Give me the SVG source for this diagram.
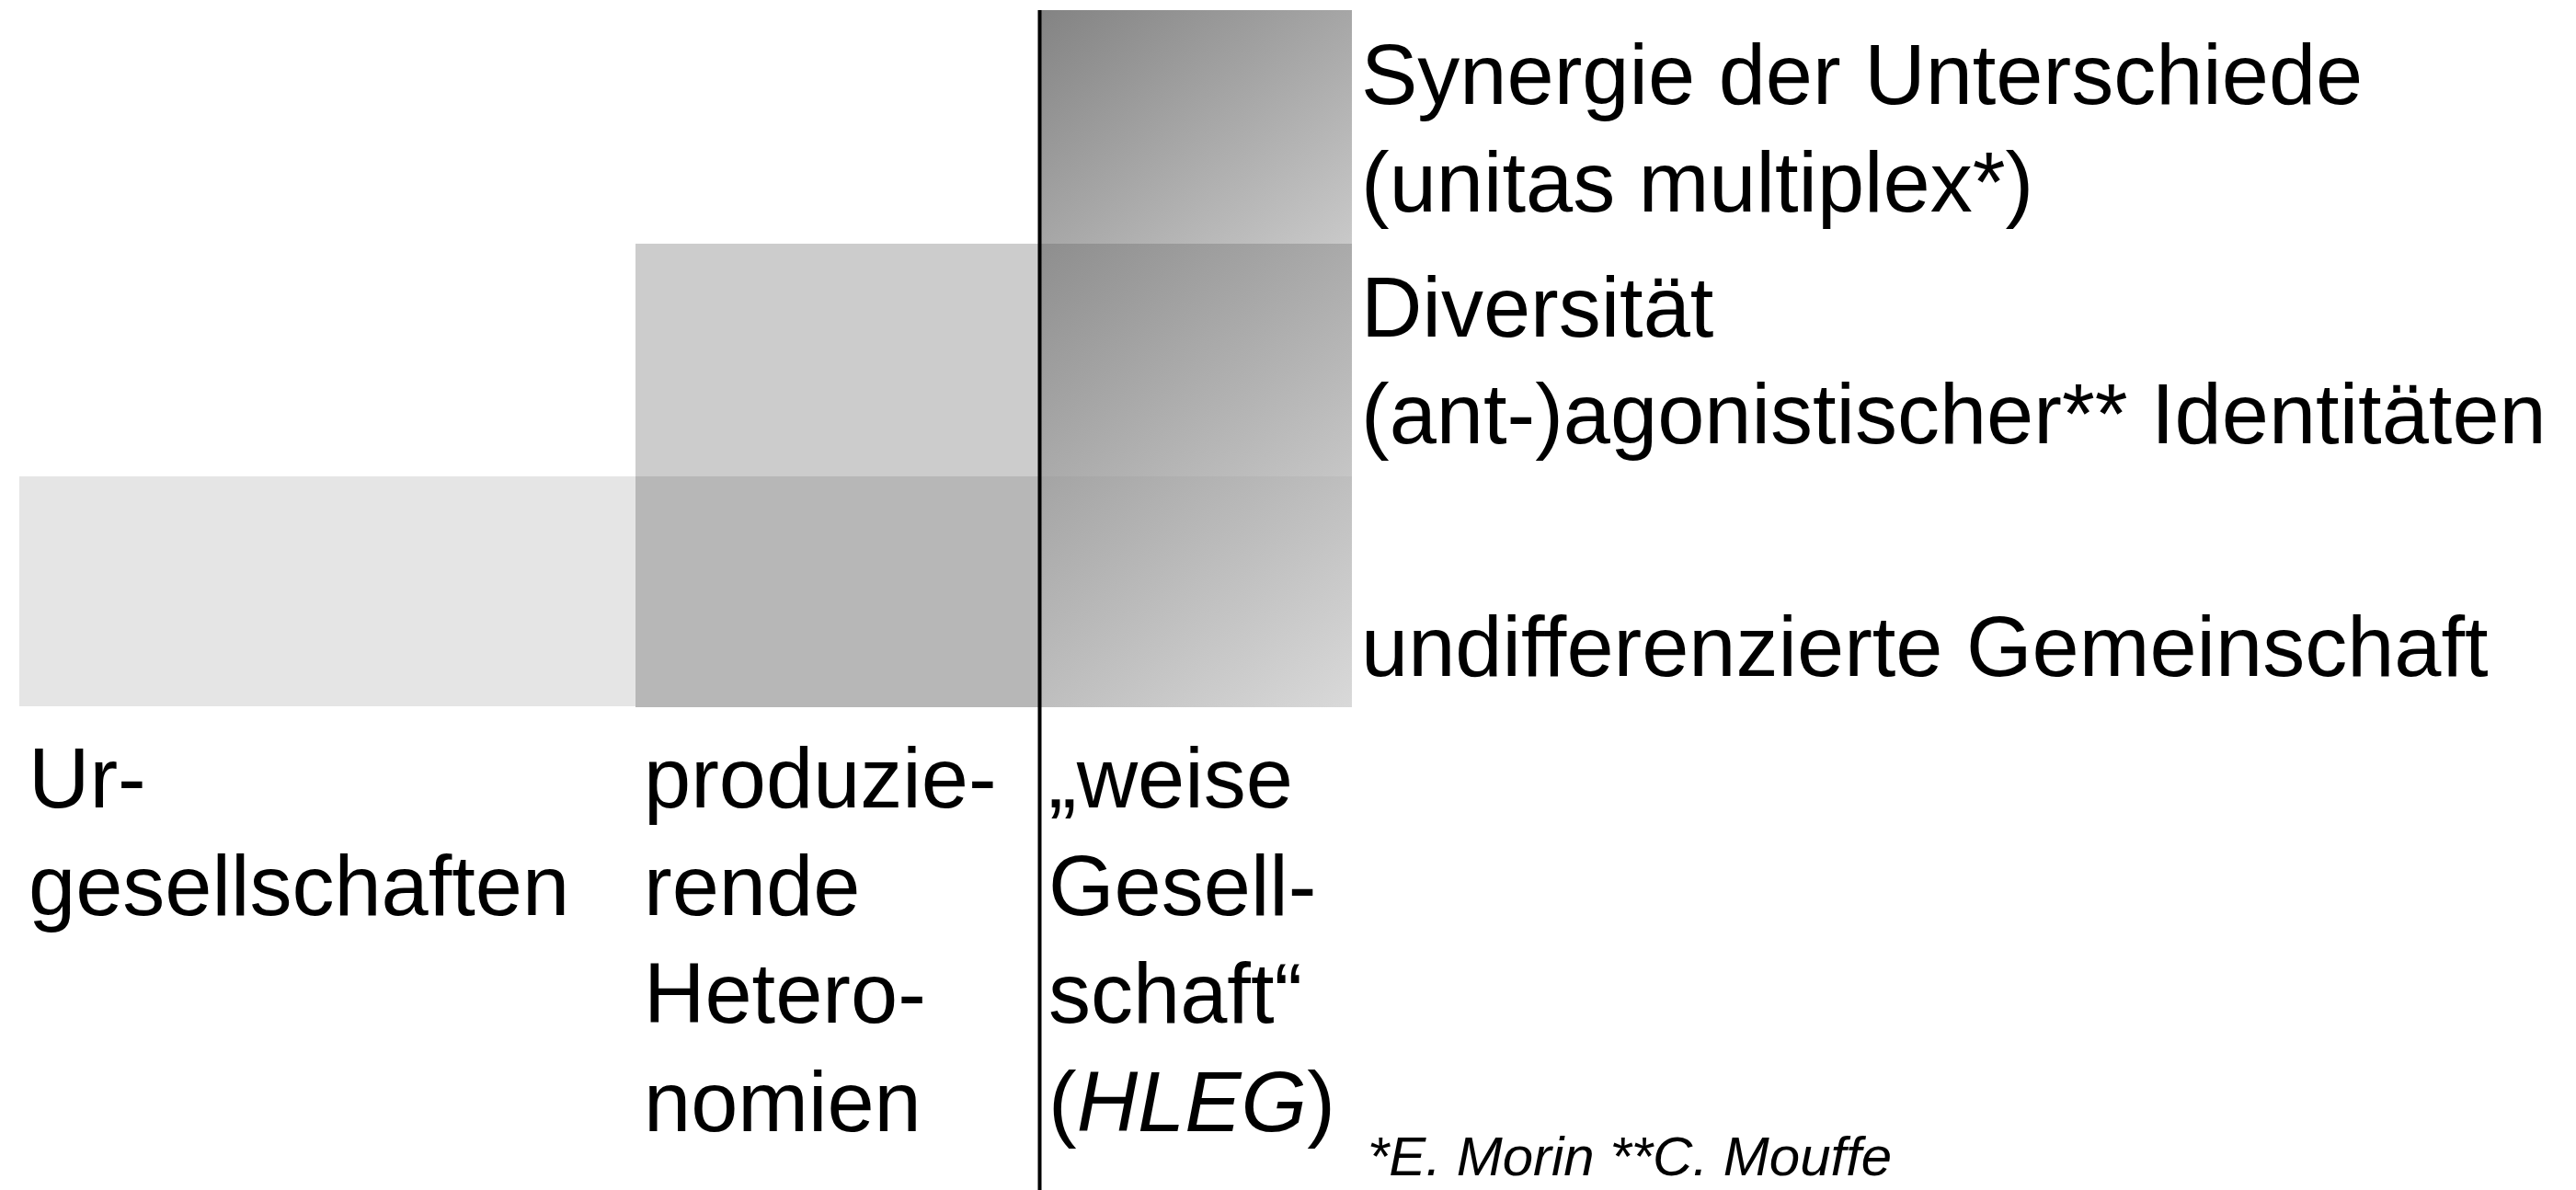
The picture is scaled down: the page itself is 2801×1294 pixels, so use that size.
<svg xmlns="http://www.w3.org/2000/svg" width="2801" height="1294" viewBox="0 0 2801 1294">
  <style>
    .t { font-family: "Liberation Sans", Arial, Helvetica, sans-serif; font-size: 92px; fill: #000; }
    .fn { font-family: "Liberation Sans", Arial, Helvetica, sans-serif; font-size: 60px; font-style: italic; fill: #000; }
    .it { font-style: italic; }
  </style>
  <defs>
    <linearGradient id="gTop" x1="0" y1="0" x2="1" y2="1">
      <stop offset="0" stop-color="#838383"/>
      <stop offset="1" stop-color="#c9c9c9"/>
    </linearGradient>
    <linearGradient id="gMid" x1="0" y1="0" x2="1" y2="1">
      <stop offset="0" stop-color="#8e8e8e"/>
      <stop offset="1" stop-color="#c6c6c6"/>
    </linearGradient>
    <linearGradient id="gBot" x1="0" y1="0" x2="1" y2="1">
      <stop offset="0" stop-color="#a4a4a4"/>
      <stop offset="1" stop-color="#d9d9d9"/>
    </linearGradient>
  </defs>
  <rect width="2801" height="1294" fill="#ffffff"/>

  <g id="band-bottom">
    <rect x="21" y="518" width="670" height="250" fill="#e5e5e5"/>
    <rect x="691" y="518" width="439" height="251" fill="#b7b7b7"/>
    <rect x="1130" y="518" width="340" height="251" fill="url(#gBot)"/>
  </g>
  <g id="band-middle">
    <rect x="691" y="265" width="439" height="253" fill="#cccccc"/>
    <rect x="1130" y="265" width="340" height="253" fill="url(#gMid)"/>
  </g>
  <g id="band-top">
    <rect x="1130" y="11" width="340" height="254" fill="url(#gTop)"/>
  </g>

  <g id="connectors">
    <line x1="1130.5" y1="11" x2="1130.5" y2="1294" stroke="#000" stroke-width="4"/>
  </g>

  <g id="label-synergie">
    <text class="t" x="1480" y="113">Synergie der Unterschiede</text>
    <text class="t" x="1480" y="230">(unitas multiplex*)</text>
  </g>
  <g id="label-diversitaet">
    <text class="t" x="1480" y="366">Diversität</text>
    <text class="t" x="1480" y="482">(ant-)agonistischer** Identitäten</text>
  </g>
  <g id="label-gemeinschaft">
    <text class="t" x="1480" y="735">undifferenzierte Gemeinschaft</text>
  </g>

  <g id="col-urgesellschaften">
    <text class="t" x="31" y="878">Ur-</text>
    <text class="t" x="31" y="995">gesellschaften</text>
  </g>
  <g id="col-heteronomien">
    <text class="t" x="700" y="878">produzie-</text>
    <text class="t" x="700" y="995">rende</text>
    <text class="t" x="700" y="1112">Hetero-</text>
    <text class="t" x="700" y="1230">nomien</text>
  </g>
  <g id="col-weise">
    <text class="t" x="1140" y="878">„weise</text>
    <text class="t" x="1140" y="995">Gesell-</text>
    <text class="t" x="1140" y="1112">schaft“</text>
    <text class="t" x="1140" y="1230">(<tspan class="it">HLEG</tspan>)</text>
  </g>

  <g id="footnote">
    <text class="fn" x="1487" y="1278">*E. Morin **C. Mouffe</text>
  </g>
</svg>
